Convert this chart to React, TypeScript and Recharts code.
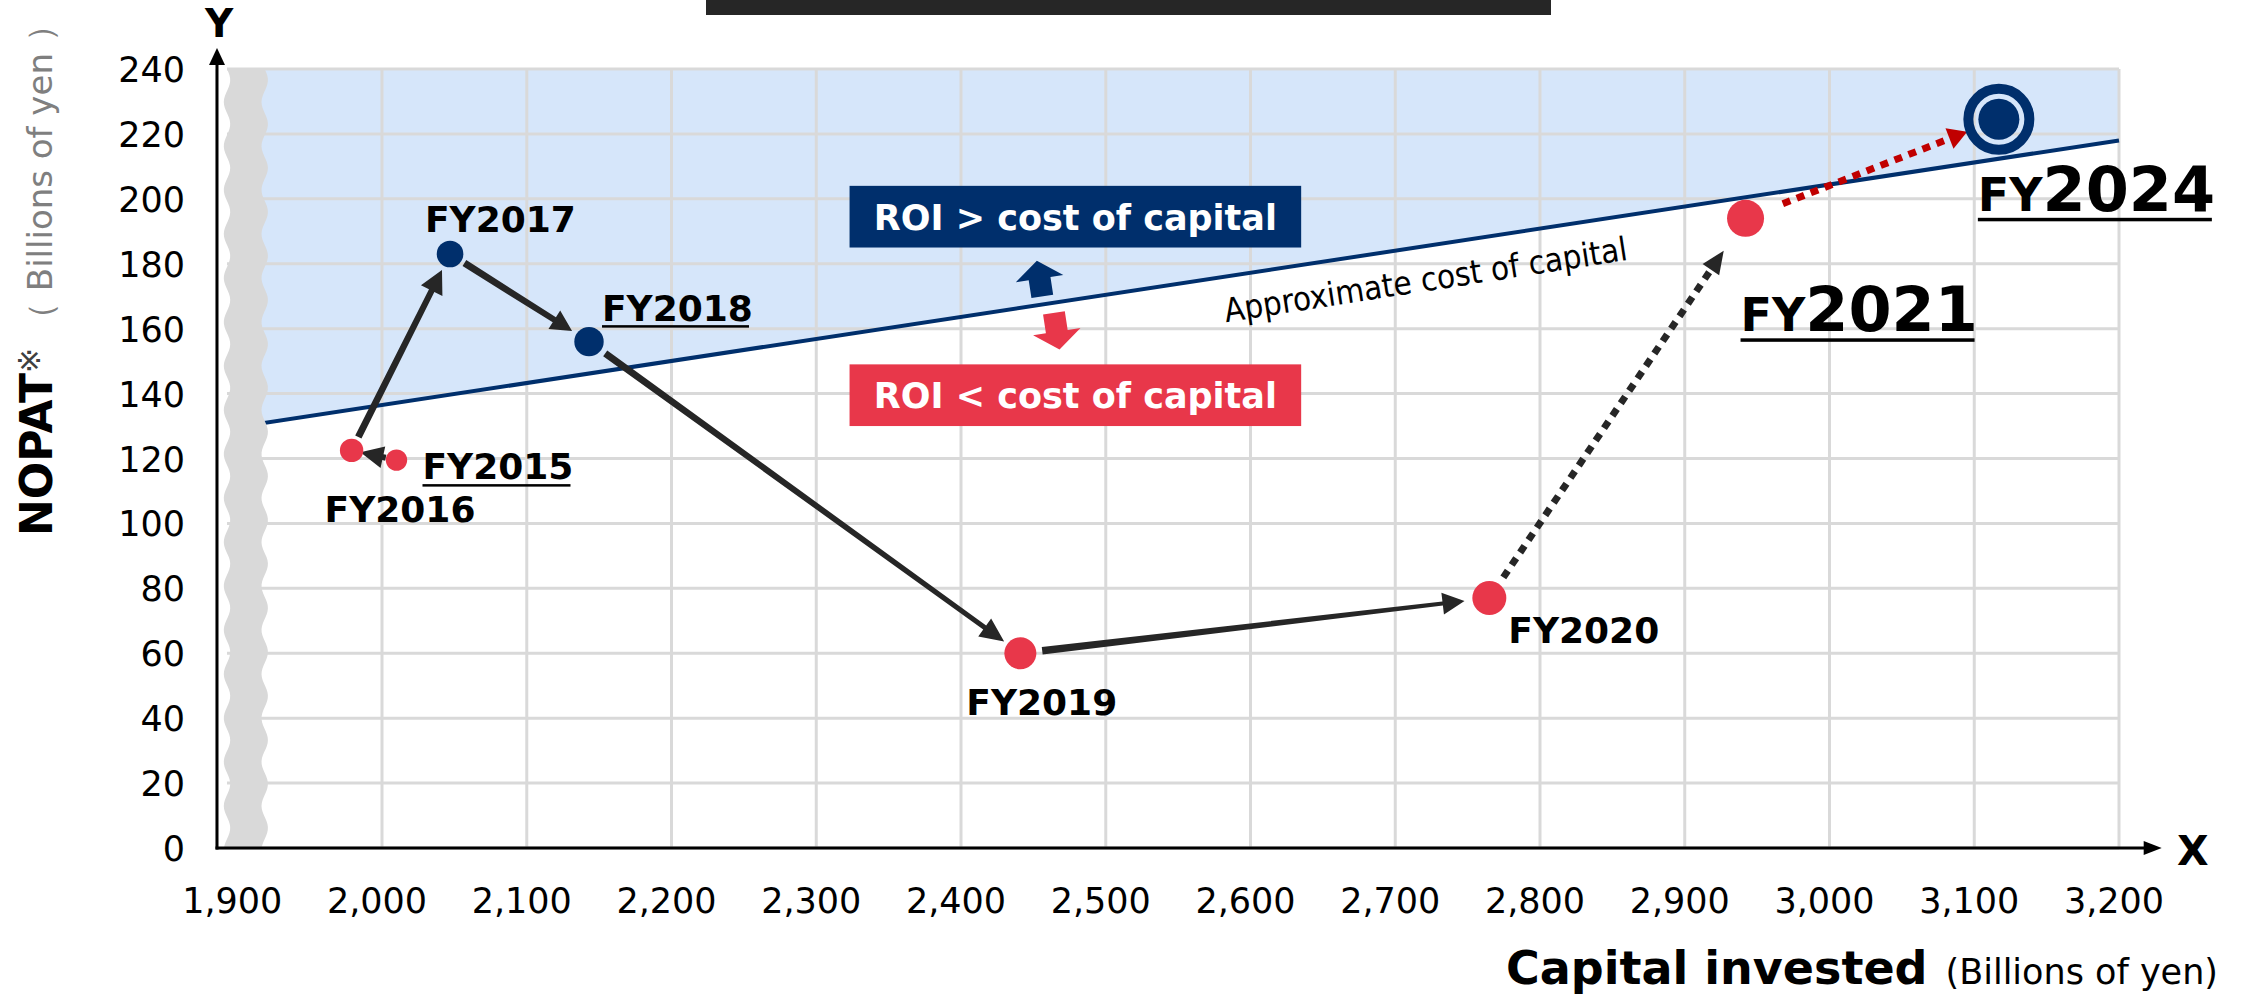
import React from 'react';
import {
  ComposedChart, XAxis, YAxis, CartesianGrid, Area, Line, Scatter,
  ReferenceLine, ReferenceArea, ReferenceDot,
} from 'recharts';

// values (billions of yen)
const FISCAL_YEARS = ['FY2015', 'FY2016', 'FY2017', 'FY2018', 'FY2019', 'FY2020', 'FY2021', 'FY2024'];
const CAPITAL_INVESTED = [2010, 1979, 2047, 2143, 2441, 2765, 2942, 3117];
const NOPAT = [119.5, 122.5, 183, 156, 60, 77, 194, 224.5];

// approximate cost of capital line (end points)
const COST_LINE_X = [1905, 3200];
const COST_LINE_Y = [130, 218];

const X_TICKS = [1900, 2000, 2100, 2200, 2300, 2400, 2500, 2600, 2700, 2800, 2900, 3000, 3100, 3200];
const Y_TICKS = [0, 20, 40, 60, 80, 100, 120, 140, 160, 180, 200, 220, 240];
const X_DOMAIN: [number, number] = [1886, 3200];
const Y_DOMAIN: [number, number] = [0, 240];

const NAVY = '#002f6c';
const RED = '#e8374a';
const DARK = '#262626';
const FONT = '"DejaVu Sans", Verdana, sans-serif';
const FONT_COND = '"DejaVu Sans Condensed", "DejaVu Sans", sans-serif';

const costAt = (x: number) =>
  COST_LINE_Y[0] + ((x - COST_LINE_X[0]) * (COST_LINE_Y[1] - COST_LINE_Y[0])) / (COST_LINE_X[1] - COST_LINE_X[0]);

const costData = COST_LINE_X.map((x, i) => ({ x, cost: COST_LINE_Y[i], band: [COST_LINE_Y[i], Y_DOMAIN[1]] }));
const points = FISCAL_YEARS.map((label, i) => ({ label, x: CAPITAL_INVESTED[i], y: NOPAT[i] }));

// marker sizes and label placement (pixels)
const POINT_STYLE: Record<string, any> = {
  FY2015: { r: 10.7, dx: 26, dy: 19, underline: 148, uo: 5 },
  FY2016: { r: 11.7, dx: -27, dy: 72 },
  FY2017: { r: 13.3, dx: -25, dy: -22 },
  FY2018: { r: 14.7, dx: 13, dy: -21, underline: 147, uo: 4.5 },
  FY2019: { r: 16, dx: -54, dy: 62 },
  FY2020: { r: 17, dx: 19, dy: 45 },
  FY2021: { r: 18.5, dx: -5, dy: 113, big: true, underline: 234, uo: 7 },
  FY2024: { r: 20.5, dx: -21, dy: 91.5, big: true, ring: true, underline: 234, uo: 7 },
};

const ARROWS = [
  { from: 0, to: 1, startGap: 11, endGap: 9, head: 23, headW: 22, w0: 6, w1: 6, color: DARK },
  { from: 1, to: 2, startGap: 15, endGap: 18, head: 23, headW: 24, w0: 7, w1: 6, color: DARK },
  { from: 2, to: 3, startGap: 17, endGap: 20, head: 21, headW: 22, w0: 7, w1: 6, color: DARK },
  { from: 3, to: 4, startGap: 20, endGap: 20, head: 24, headW: 22, w0: 7, w1: 5, color: DARK },
  { from: 4, to: 5, startGap: 22, endGap: 25, head: 22, headW: 22, w0: 7.5, w1: 4, color: DARK },
  { from: 5, to: 6, startGap: 25, endGap: 39, head: 23, headW: 20, w0: 7, w1: 7, color: DARK, dashed: true },
  { from: 6, to: 7, startGap: 40, endGap: 34, head: 19, headW: 22, w0: 7, w1: 7, color: '#c00000', dashed: true },
];

const Arrow = ({ x1, y1, x2, y2, st }: any) => {
  const len = Math.hypot(x2 - x1, y2 - y1);
  const ux = (x2 - x1) / len, uy = (y2 - y1) / len;
  const nx = -uy, ny = ux;
  const sx = x1 + ux * st.startGap, sy = y1 + uy * st.startGap;
  const tx = x2 - ux * st.endGap, ty = y2 - uy * st.endGap;
  const bx = tx - ux * st.head, by = ty - uy * st.head;
  const headPts = `${bx + nx * st.headW / 2},${by + ny * st.headW / 2} ${tx},${ty} ${bx - nx * st.headW / 2},${by - ny * st.headW / 2}`;
  if (st.dashed) {
    return (
      <g>
        <line x1={sx} y1={sy} x2={bx + ux} y2={by + uy} stroke={st.color} strokeWidth={st.w0} strokeDasharray="8 7" />
        <polygon points={headPts} fill={st.color} />
      </g>
    );
  }
  const pts = [
    [sx + nx * st.w0 / 2, sy + ny * st.w0 / 2],
    [bx + nx * st.w1 / 2, by + ny * st.w1 / 2],
    [bx + nx * st.headW / 2, by + ny * st.headW / 2],
    [tx, ty],
    [bx - nx * st.headW / 2, by - ny * st.headW / 2],
    [bx - nx * st.w1 / 2, by - ny * st.w1 / 2],
    [sx - nx * st.w0 / 2, sy - ny * st.w0 / 2],
  ].map((p) => p.join(',')).join(' ');
  return <polygon points={pts} fill={st.color} />;
};

const PointShape = (props: any) => {
  const { cx, cy, payload } = props;
  const st = POINT_STYLE[payload.label];
  const color = payload.y > costAt(payload.x) ? NAVY : RED;
  const tx = cx + st.dx, ty = cy + st.dy;
  return (
    <g>
      {st.ring && <circle cx={cx} cy={cy} r={30.5} fill="none" stroke={NAVY} strokeWidth={10} />}
      <circle cx={cx} cy={cy} r={st.r} fill={color} />
      {st.big ? (
        <text x={tx} y={ty} fontFamily={FONT} fontWeight={700} fill="#000">
          <tspan fontSize={46}>{payload.label.slice(0, 2)}</tspan>
          <tspan fontSize={62}>{payload.label.slice(2)}</tspan>
        </text>
      ) : (
        <text x={tx} y={ty} fontFamily={FONT} fontWeight={700} fontSize={36} fill="#000">{payload.label}</text>
      )}
      {st.underline && <rect x={tx} y={ty + st.uo} width={st.underline} height={st.big ? 3.5 : 2.5} fill="#000" />}
    </g>
  );
};

const BreakBand = ({ x, y, width, height }: any) => {
  const left = x + 10, right = x + width - 1.5, amp = 3.2, period = 44;
  const steps = Math.ceil(height / 3);
  let d = '';
  for (let i = 0; i <= steps; i++) {
    const yy = y + (height * i) / steps;
    d += `${i === 0 ? 'M' : 'L'}${left + amp * Math.sin((2 * Math.PI * (yy - y)) / period)},${yy} `;
  }
  for (let i = steps; i >= 0; i--) {
    const yy = y + (height * i) / steps;
    d += `L${right + amp * Math.sin((2 * Math.PI * (yy - y)) / period)},${yy} `;
  }
  return (
    <g>
      <rect x={x + 1} y={y - 2} width={9} height={height + 2} fill="#fff" />
      <path d={d + 'Z'} fill="#d9d9d9" />
    </g>
  );
};

const BoxShape = ({ x, y, width, height, boxColor, text }: any) => (
  <g>
    <rect x={x} y={y} width={width} height={height} fill={boxColor} />
    <text x={x + width / 2} y={y + height / 2 + 13} textAnchor="middle" fontFamily={FONT} fontWeight={700} fontSize={35} fill="#fff">{text}</text>
  </g>
);

const UpDownArrows = ({ cx, cy }: any) => (
  <g transform={`translate(${cx},${cy}) rotate(-8.7)`}>
    <polygon points="-11,-8 -11,-26 -24,-26 0,-44 24,-26 11,-26 11,-8" fill={NAVY} />
    <polygon points="-2,10 -2,29 -15,29 9,47 33,29 20,29 20,10" fill={RED} />
  </g>
);

const CostText = ({ cx, cy }: any) => (
  <text transform={`translate(${cx},${cy}) rotate(-8.8)`} fontFamily={FONT_COND} fontSize={33} fill="#000">Approximate cost of capital</text>
);

const XAxisArrow = ({ x1, y1, x2 }: any) => (
  <g>
    <line x1={x1 - 1.5} y1={y1} x2={x2 - 16} y2={y1} stroke="#000" strokeWidth={3} />
    <polygon points={`${x2 - 18},${y1 - 7} ${x2},${y1} ${x2 - 18},${y1 + 7}`} fill="#000" />
    <text x={x2 + 31} y={y1 + 17} textAnchor="middle" fontFamily={FONT} fontWeight={700} fontSize={41} fill="#000">X</text>
  </g>
);

const YAxisArrow = ({ x1, y1, y2 }: any) => (
  <g>
    <line x1={x1} y1={y1 + 1.5} x2={x1} y2={y2 + 15} stroke="#000" strokeWidth={3} />
    <polygon points={`${x1 - 8},${y2 + 17} ${x1},${y2} ${x1 + 8},${y2 + 17}`} fill="#000" />
    <text x={x1 + 2} y={y2 - 11} textAnchor="middle" fontFamily={FONT} fontWeight={700} fontSize={39} fill="#000">Y</text>
  </g>
);

const XTick = ({ x, y, payload }: any) => (
  <text x={x - 5} y={y + 65} textAnchor="middle" fontFamily={FONT} fontSize={35} fill="#000">
    {payload.value.toLocaleString('en-US')}
  </text>
);

const YTick = ({ x, y, payload }: any) => (
  <text x={x - 32} y={y + 13} textAnchor="end" fontFamily={FONT} fontSize={35} fill="#000">{payload.value}</text>
);

export default function App() {
  return (
    <div style={{ position: 'absolute', left: 0, top: 0, width: 2241, height: 994, background: '#fff', overflow: 'hidden' }}>
      <div style={{ position: 'absolute', left: 706, top: 0, width: 845, height: 15, background: DARK }} />
      <ComposedChart width={2241} height={994} data={costData} margin={{ top: 69, right: 122, bottom: 86, left: 137 }}>
        <Area dataKey="band" type="linear" fill="#d6e6fa" fillOpacity={1} stroke="none" isAnimationActive={false} zIndex={1} />
        <CartesianGrid stroke="#d9d9d9" strokeWidth={3} zIndex={2} />
        <XAxis dataKey="x" type="number" domain={X_DOMAIN} ticks={X_TICKS} interval={0}
          axisLine={false} tickLine={false} tickSize={0} tickMargin={0} height={60} tick={<XTick />} />
        <YAxis type="number" domain={Y_DOMAIN} ticks={Y_TICKS} interval={0}
          axisLine={false} tickLine={false} tickSize={0} tickMargin={0} width={80} tick={<YTick />} />
        <Line dataKey="cost" type="linear" stroke={NAVY} strokeWidth={4} dot={false} activeDot={false} isAnimationActive={false} zIndex={3} />
        <ReferenceArea x1={X_DOMAIN[0]} x2={1920} y1={Y_DOMAIN[0]} y2={Y_DOMAIN[1]} ifOverflow="visible" shape={<BreakBand />} zIndex={4} />
        <ReferenceArea x1={2323} x2={2635} y1={185} y2={204} ifOverflow="visible" shape={<BoxShape boxColor={NAVY} text="ROI > cost of capital" />} zIndex={5} />
        <ReferenceArea x1={2323} x2={2635} y1={130} y2={149} ifOverflow="visible" shape={<BoxShape boxColor={RED} text="ROI < cost of capital" />} zIndex={5} />
        <ReferenceDot x={2457} y={costAt(2457)} r={0} ifOverflow="visible" shape={<UpDownArrows />} zIndex={5} />
        <ReferenceDot x={2583} y={162} r={0} ifOverflow="visible" shape={<CostText />} zIndex={5} />
        <ReferenceLine segment={[{ x: X_DOMAIN[0], y: 0 }, { x: 3229.5, y: 0 }]} ifOverflow="visible" shape={<XAxisArrow />} zIndex={6} />
        <ReferenceLine segment={[{ x: X_DOMAIN[0], y: 0 }, { x: X_DOMAIN[0], y: 246.5 }]} ifOverflow="visible" shape={<YAxisArrow />} zIndex={6} />
        {ARROWS.map((a, i) => (
          <ReferenceLine key={i} ifOverflow="visible" zIndex={7}
            segment={[{ x: CAPITAL_INVESTED[a.from], y: NOPAT[a.from] }, { x: CAPITAL_INVESTED[a.to], y: NOPAT[a.to] }]}
            shape={(p: any) => <Arrow {...p} st={a} />} />
        ))}
        <Scatter data={points} dataKey="y" shape={PointShape} isAnimationActive={false} zIndex={8} />
      </ComposedChart>
      <svg width={2241} height={994} style={{ position: 'absolute', left: 0, top: 0, pointerEvents: 'none' }}>
        <text transform="translate(52,536) rotate(-90)" fontFamily={FONT}>
          <tspan fontWeight={700} fontSize={44} fill="#000">NOPAT</tspan>
          <tspan fontSize={30} fill="#404040" dy={-12}>※</tspan>
        </text>
        <text transform="translate(52,336) rotate(-90)" fontFamily={FONT} fontSize={34} fill="#7f7f7f">（ Billions of yen ）</text>
        <text x={2218} y={984} textAnchor="end" fontFamily={FONT} fill="#000">
          <tspan fontWeight={700} fontSize={46}>Capital invested</tspan>
          <tspan fontSize={35} dx={18}>(Billions of yen)</tspan>
        </text>
      </svg>
    </div>
  );
}
